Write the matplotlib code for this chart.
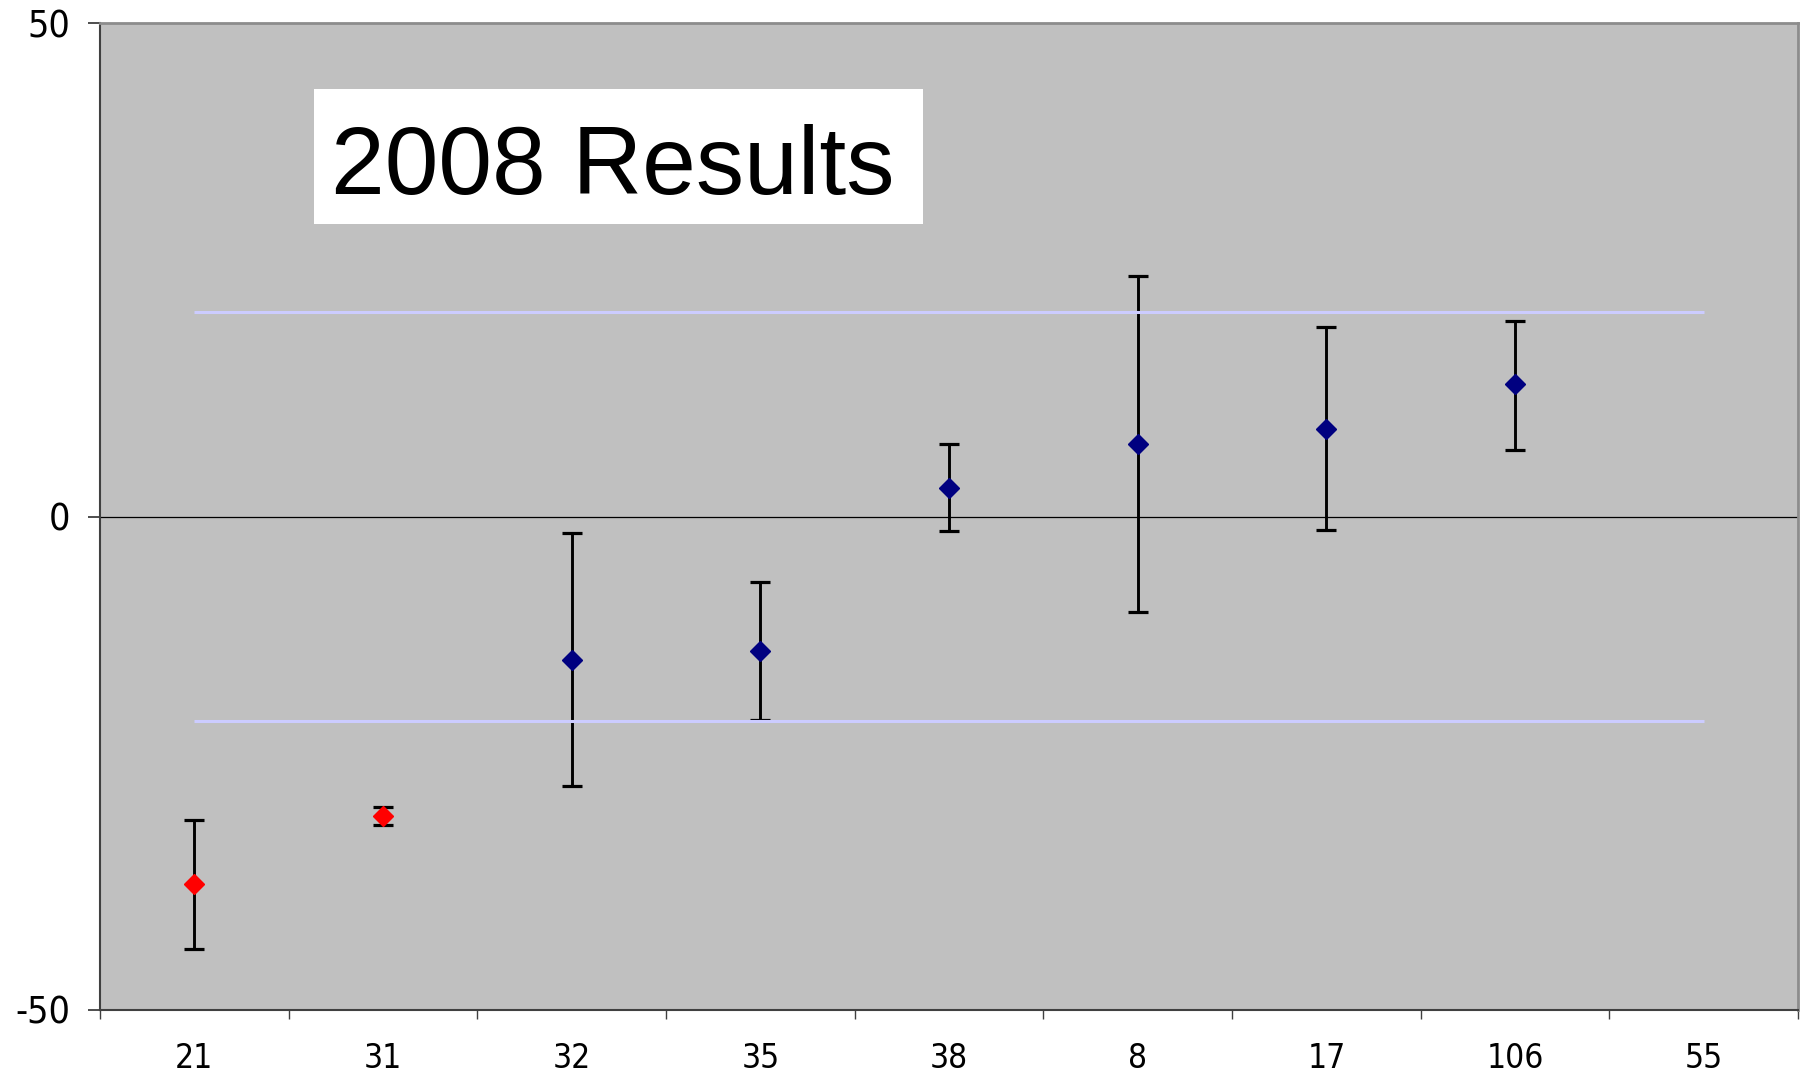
import matplotlib
matplotlib.use('Agg')
import matplotlib.pyplot as plt
from matplotlib.patches import Rectangle
import numpy as np

# ---- data ----
categories = ['21', '31', '32', '35', '38', '8', '17', '106', '55']
values     = [-37.2, -30.3, -14.5, -13.6, 2.9, 7.3, 8.9, 13.4, np.nan]
err_minus  = [6.6, 1.0, 12.8, 7.0, 4.4, 17.0, 10.3, 6.7, np.nan]
err_plus   = [6.4, 0.9, 12.8, 7.0, 4.4, 17.1, 10.3, 6.4, np.nan]
point_colors = ['#FF0000', '#FF0000', '#000080', '#000080', '#000080',
                '#000080', '#000080', '#000080', '#000080']
limit_upper = 20.7
limit_lower = -20.7
y_ticks = [-50, 0, 50]
title_text = '2008 Results'

fig = plt.figure(figsize=(18.09, 10.77), dpi=100)
fig.patch.set_facecolor('white')
ax = fig.add_axes([100/1809, 1 - 1010/1077, (1798-100)/1809, (1010-23)/1077])
ax.set_facecolor('#C0C0C0')

x = np.arange(len(categories))

# zero line
ax.axhline(0, color='black', lw=0.9, zorder=2)

# limit lines from first to last category centre
ax.plot([x[0], x[-1]], [limit_upper, limit_upper], color='#CCCCFF', lw=2.2,
        solid_capstyle='butt', zorder=4)
ax.plot([x[0], x[-1]], [limit_lower, limit_lower], color='#CCCCFF', lw=2.2,
        solid_capstyle='butt', zorder=4)

# error bars and markers
for xi, v, em, ep, c in zip(x, values, err_minus, err_plus, point_colors):
    if np.isnan(v):
        continue
    ax.errorbar([xi], [v], yerr=[[em], [ep]], fmt='none', ecolor='black',
                elinewidth=2.1, capsize=7.4, capthick=2.3, zorder=3)
    ax.plot([xi], [v], marker='D', ms=10.5, color=c, mec=c, ls='none',
            zorder=5)

ax.set_xlim(-0.5, len(categories) - 0.5)
ax.set_ylim(-50, 50)

# y ticks
ax.set_yticks(y_ticks)
ax.set_yticklabels([str(t) for t in y_ticks])
ax.tick_params(axis='y', direction='out', length=8.6, width=1.3,
               color='#404040', pad=13, labelsize=27)

# x: labels at centres, ticks at boundaries
ax.set_xticks(x)
ax.set_xticklabels(categories)
ax.set_xticks(np.arange(-0.5, len(categories), 1.0), minor=True)
ax.tick_params(axis='x', which='major', length=0, pad=23, labelsize=24)
ax.tick_params(axis='x', which='minor', direction='out', length=6.5,
               width=1.0, color='#404040')

for lab in ax.get_xticklabels() + ax.get_yticklabels():
    lab.set_fontfamily('DejaVu Sans')
    lab.set_fontstretch('condensed')
    lab.set_color('black')

# spines
for s in ['left', 'bottom']:
    ax.spines[s].set_color('#404040')
    ax.spines[s].set_linewidth(1.5)
for s in ['top', 'right']:
    ax.spines[s].set_color('#8C8C8C')
    ax.spines[s].set_linewidth(2.0)

# title box
box = Rectangle((314/1809, 1 - 224/1077), (923-314)/1809, (224-89)/1077,
                transform=fig.transFigure, facecolor='white', edgecolor='none',
                zorder=10)
fig.patches.append(box)
fig.text(331/1809, 1 - 194/1077, title_text, fontsize=69.5,
         fontfamily='Liberation Sans', ha='left', va='baseline',
         color='black', zorder=11)

fig.savefig('out.png', dpi=100, facecolor='white')
